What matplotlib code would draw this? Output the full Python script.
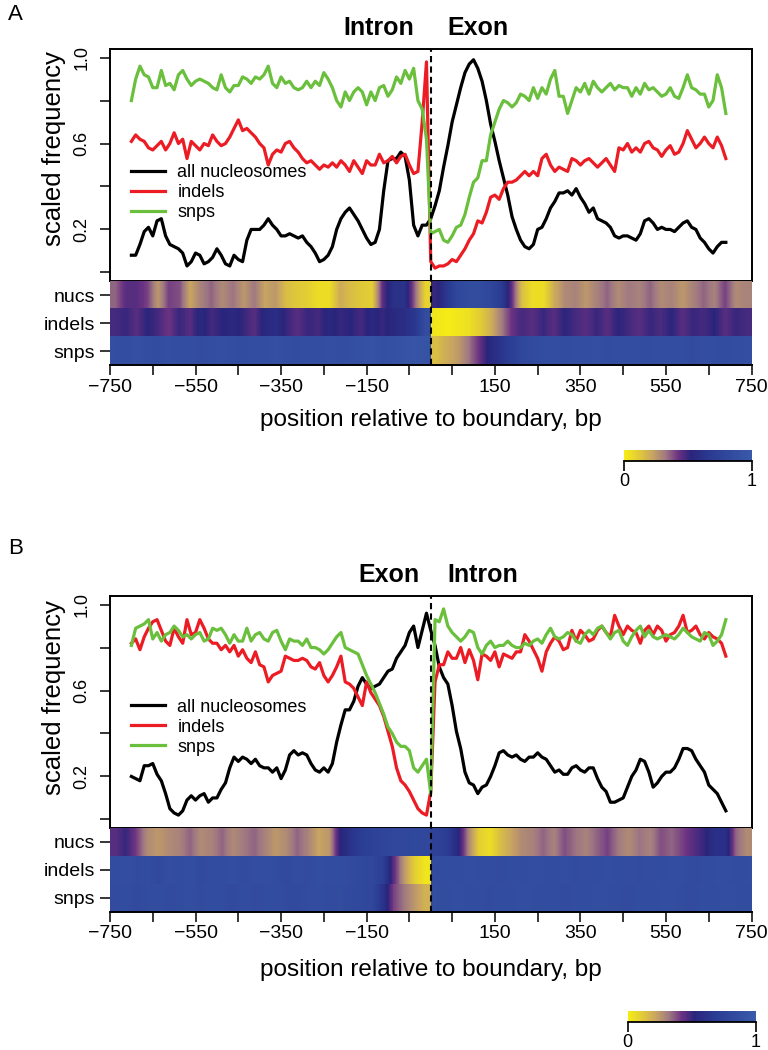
import numpy as np
import matplotlib
matplotlib.use("Agg")
import matplotlib.pyplot as plt
from matplotlib.colors import LinearSegmentedColormap, Normalize
from matplotlib.lines import Line2D

plt.rcParams['font.family'] = ['Liberation Sans', 'DejaVu Sans']

# ---------------- data (10 bp steps, -700 .. 690) ----------------
a_snps = [0.80,0.90,0.96,0.92,0.91,0.86,0.86,0.94,0.87,0.88,
          0.85,0.92,0.94,0.90,0.87,0.89,0.90,0.89,0.88,0.86,
          0.85,0.92,0.86,0.84,0.87,0.87,0.91,0.90,0.88,0.91,
          0.90,0.92,0.96,0.88,0.86,0.91,0.88,0.89,0.86,0.85,
          0.86,0.89,0.86,0.89,0.87,0.93,0.90,0.86,0.80,0.77,
          0.84,0.80,0.84,0.86,0.84,0.78,0.84,0.80,0.86,0.87,
          0.82,0.85,0.91,0.88,0.94,0.90,0.95,0.80,0.76,0.62,
          0.18,0.19,0.20,0.15,0.14,0.17,0.21,0.22,0.27,0.35,
          0.42,0.44,0.52,0.52,0.64,0.70,0.76,0.80,0.79,0.77,
          0.79,0.83,0.82,0.80,0.86,0.81,0.86,0.83,0.90,0.94,
          0.82,0.82,0.74,0.80,0.86,0.84,0.88,0.83,0.89,0.86,
          0.84,0.86,0.88,0.85,0.87,0.86,0.86,0.82,0.86,0.83,
          0.88,0.85,0.86,0.84,0.82,0.83,0.86,0.82,0.81,0.86,
          0.92,0.86,0.85,0.83,0.83,0.77,0.80,0.92,0.86,0.74]
a_indels = [0.61,0.64,0.62,0.61,0.58,0.57,0.59,0.61,0.57,0.60,
            0.65,0.60,0.62,0.53,0.61,0.59,0.57,0.60,0.59,0.64,
            0.61,0.59,0.60,0.63,0.67,0.71,0.66,0.67,0.65,0.63,
            0.60,0.58,0.50,0.55,0.57,0.56,0.60,0.61,0.58,0.56,
            0.53,0.51,0.52,0.50,0.48,0.50,0.49,0.51,0.49,0.52,
            0.50,0.47,0.52,0.49,0.46,0.52,0.50,0.50,0.55,0.51,
            0.52,0.54,0.51,0.54,0.55,0.50,0.46,0.47,0.70,0.98,
            0.05,0.02,0.03,0.03,0.04,0.06,0.05,0.08,0.11,0.15,
            0.18,0.24,0.23,0.28,0.35,0.36,0.34,0.39,0.42,0.42,
            0.43,0.45,0.47,0.45,0.47,0.45,0.53,0.55,0.50,0.47,
            0.49,0.48,0.47,0.53,0.52,0.50,0.52,0.53,0.51,0.49,
            0.51,0.53,0.50,0.47,0.58,0.57,0.60,0.56,0.58,0.56,
            0.60,0.61,0.58,0.57,0.54,0.57,0.59,0.55,0.56,0.60,
            0.66,0.62,0.58,0.60,0.63,0.60,0.58,0.63,0.59,0.53]
a_nucs = [0.08,0.08,0.13,0.19,0.21,0.17,0.24,0.25,0.17,0.13,
          0.12,0.11,0.09,0.03,0.05,0.09,0.08,0.04,0.05,0.07,
          0.11,0.08,0.04,0.03,0.08,0.06,0.05,0.15,0.20,0.20,
          0.20,0.22,0.25,0.22,0.20,0.17,0.17,0.18,0.17,0.16,
          0.17,0.14,0.12,0.09,0.05,0.06,0.08,0.12,0.20,0.25,
          0.28,0.30,0.27,0.24,0.20,0.16,0.13,0.14,0.20,0.38,
          0.52,0.53,0.53,0.56,0.54,0.43,0.22,0.17,0.22,0.22,
          0.25,0.31,0.38,0.49,0.59,0.70,0.78,0.86,0.93,0.97,
          0.99,0.95,0.89,0.80,0.69,0.61,0.52,0.44,0.36,0.26,
          0.20,0.15,0.12,0.11,0.13,0.20,0.21,0.25,0.30,0.33,
          0.37,0.37,0.38,0.36,0.39,0.35,0.32,0.28,0.30,0.25,
          0.24,0.23,0.21,0.17,0.16,0.17,0.17,0.16,0.15,0.18,
          0.24,0.25,0.23,0.20,0.21,0.20,0.20,0.19,0.21,0.23,
          0.24,0.21,0.20,0.16,0.14,0.11,0.09,0.12,0.14,0.14]

b_snps = [0.81,0.89,0.90,0.91,0.93,0.84,0.87,0.83,0.86,0.87,
          0.90,0.88,0.85,0.86,0.84,0.86,0.87,0.83,0.84,0.89,
          0.88,0.89,0.86,0.82,0.86,0.83,0.83,0.89,0.83,0.86,
          0.87,0.84,0.83,0.87,0.88,0.83,0.79,0.84,0.83,0.83,
          0.81,0.84,0.80,0.80,0.79,0.77,0.79,0.82,0.85,0.87,
          0.80,0.79,0.78,0.77,0.72,0.67,0.63,0.59,0.54,0.49,
          0.43,0.40,0.36,0.34,0.34,0.32,0.24,0.22,0.25,0.28,
          0.12,0.93,0.92,0.98,0.90,0.87,0.85,0.83,0.85,0.88,
          0.87,0.80,0.77,0.81,0.83,0.80,0.81,0.81,0.83,0.81,
          0.80,0.80,0.82,0.81,0.83,0.84,0.82,0.86,0.89,0.85,
          0.84,0.85,0.87,0.86,0.83,0.82,0.86,0.88,0.86,0.89,
          0.90,0.87,0.84,0.87,0.88,0.83,0.81,0.85,0.88,0.90,
          0.85,0.88,0.85,0.84,0.85,0.86,0.85,0.84,0.86,0.89,
          0.87,0.85,0.84,0.83,0.87,0.86,0.81,0.83,0.86,0.93]
b_indels = [0.82,0.84,0.79,0.85,0.89,0.92,0.93,0.88,0.83,0.81,
            0.89,0.85,0.82,0.93,0.86,0.87,0.93,0.89,0.84,0.82,
            0.82,0.79,0.81,0.78,0.81,0.76,0.79,0.75,0.73,0.78,
            0.72,0.71,0.64,0.67,0.68,0.69,0.76,0.75,0.74,0.74,
            0.75,0.74,0.71,0.70,0.73,0.67,0.64,0.67,0.71,0.76,
            0.64,0.63,0.61,0.57,0.53,0.64,0.59,0.56,0.53,0.48,
            0.41,0.34,0.24,0.18,0.16,0.13,0.09,0.05,0.03,0.02,
            0.13,0.64,0.72,0.72,0.78,0.75,0.75,0.80,0.73,0.79,
            0.74,0.65,0.77,0.76,0.74,0.78,0.71,0.77,0.76,0.75,
            0.78,0.78,0.86,0.83,0.79,0.75,0.69,0.78,0.82,0.85,
            0.83,0.79,0.80,0.88,0.83,0.88,0.86,0.83,0.84,0.88,
            0.90,0.87,0.85,0.95,0.90,0.86,0.90,0.88,0.87,0.82,
            0.88,0.90,0.86,0.90,0.88,0.83,0.86,0.87,0.90,0.95,
            0.87,0.88,0.90,0.86,0.84,0.87,0.85,0.84,0.82,0.76]
b_nucs = [0.20,0.19,0.18,0.25,0.25,0.26,0.21,0.18,0.12,0.05,
          0.03,0.02,0.04,0.09,0.11,0.09,0.11,0.12,0.08,0.10,
          0.10,0.14,0.17,0.24,0.29,0.27,0.29,0.28,0.26,0.28,
          0.25,0.24,0.24,0.22,0.24,0.19,0.23,0.30,0.32,0.30,
          0.31,0.30,0.26,0.23,0.22,0.24,0.22,0.26,0.36,0.44,
          0.51,0.51,0.55,0.62,0.66,0.63,0.61,0.62,0.63,0.66,
          0.69,0.70,0.75,0.78,0.81,0.87,0.90,0.80,0.88,0.96,
          0.88,0.81,0.71,0.66,0.63,0.53,0.41,0.33,0.22,0.17,
          0.16,0.12,0.15,0.16,0.20,0.25,0.31,0.32,0.30,0.29,
          0.30,0.28,0.27,0.29,0.29,0.31,0.29,0.28,0.25,0.22,
          0.23,0.21,0.21,0.24,0.25,0.23,0.22,0.24,0.24,0.19,
          0.15,0.13,0.08,0.08,0.09,0.10,0.15,0.20,0.23,0.28,
          0.27,0.22,0.15,0.17,0.20,0.22,0.22,0.24,0.28,0.33,
          0.33,0.32,0.28,0.25,0.22,0.16,0.14,0.12,0.08,0.04]

# heatmap rows, 25 bp cells from -750 to 750 (60 cells)
a_heat_nucs = [0.35,0.45,0.45,0.40,0.25,0.40,0.38,0.22,0.30,0.35,
               0.28,0.33,0.25,0.32,0.22,0.25,0.15,0.12,0.10,0.05,
               0.05,0.20,0.15,0.12,0.10,0.45,0.60,0.62,0.35,0.08,
               0.50,0.65,0.80,0.85,0.85,0.80,0.70,0.45,0.15,0.05,
               0.05,0.20,0.28,0.30,0.25,0.30,0.35,0.28,0.32,0.30,
               0.35,0.28,0.30,0.25,0.30,0.35,0.30,0.40,0.28,0.30]
a_heat_indels = [0.48,0.50,0.45,0.52,0.48,0.42,0.50,0.45,0.55,0.48,
                 0.52,0.55,0.50,0.45,0.55,0.58,0.50,0.45,0.50,0.48,
                 0.55,0.50,0.52,0.48,0.55,0.50,0.55,0.58,0.65,0.85,
                 0.02,0.00,0.02,0.04,0.10,0.18,0.30,0.42,0.48,0.45,
                 0.50,0.45,0.52,0.48,0.45,0.50,0.45,0.52,0.48,0.45,
                 0.50,0.47,0.52,0.45,0.50,0.48,0.52,0.45,0.50,0.48]
a_heat_snps = [0.88,0.86,0.90,0.87,0.85,0.89,0.86,0.88,0.84,0.87,
               0.89,0.86,0.85,0.88,0.86,0.90,0.87,0.85,0.88,0.86,
               0.89,0.87,0.88,0.90,0.92,0.88,0.90,0.92,0.94,0.92,
               0.15,0.20,0.24,0.32,0.42,0.55,0.62,0.72,0.80,0.84,
               0.86,0.88,0.85,0.87,0.86,0.89,0.85,0.87,0.88,0.86,
               0.85,0.88,0.86,0.87,0.84,0.88,0.86,0.85,0.87,0.88]
b_heat_nucs = [0.45,0.50,0.40,0.28,0.25,0.28,0.30,0.35,0.28,0.30,
               0.35,0.28,0.32,0.35,0.30,0.25,0.28,0.35,0.30,0.22,
               0.25,0.52,0.62,0.70,0.75,0.78,0.80,0.80,0.82,0.80,
               0.75,0.70,0.55,0.30,0.10,0.05,0.15,0.22,0.28,0.30,
               0.35,0.30,0.38,0.33,0.30,0.35,0.40,0.32,0.28,0.33,
               0.30,0.38,0.35,0.40,0.45,0.50,0.60,0.60,0.35,0.28]
b_heat_indels = [0.85,0.88,0.84,0.86,0.82,0.87,0.85,0.88,0.83,0.86,
                 0.85,0.87,0.84,0.86,0.88,0.85,0.83,0.86,0.84,0.87,
                 0.85,0.86,0.84,0.82,0.80,0.72,0.45,0.25,0.10,0.02,
                 0.84,0.86,0.85,0.87,0.85,0.86,0.84,0.86,0.85,0.87,
                 0.86,0.85,0.87,0.84,0.86,0.85,0.87,0.85,0.86,0.84,
                 0.86,0.85,0.87,0.86,0.84,0.85,0.86,0.87,0.85,0.86]
b_heat_snps = [0.84,0.86,0.83,0.85,0.86,0.84,0.85,0.87,0.84,0.86,
               0.85,0.83,0.86,0.84,0.85,0.86,0.84,0.83,0.85,0.86,
               0.84,0.85,0.83,0.82,0.80,0.62,0.40,0.32,0.25,0.18,
               0.86,0.85,0.87,0.85,0.86,0.84,0.86,0.85,0.87,0.86,
               0.85,0.86,0.84,0.86,0.85,0.87,0.86,0.85,0.84,0.86,
               0.85,0.86,0.87,0.85,0.84,0.86,0.85,0.87,0.86,0.85]

row_names = ["nucs", "indels", "snps"]
legend_names = ["all nucleosomes", "indels", "snps"]
xtick_pos = list(range(-750, 751, 100))
xtick_lab = ["\u2212750", "", "\u2212550", "", "\u2212350", "", "\u2212150", "",
             "", "150", "", "350", "", "550", "", "750"]

heat_cmap = LinearSegmentedColormap.from_list("heat", [
    (0.00, "#f5ec17"), (0.12, "#e0c83a"), (0.22, "#c8a462"), (0.32, "#a07a82"),
    (0.42, "#6c3282"), (0.52, "#2a257c"), (0.68, "#2a3c92"), (1.00, "#3a5aaa")])
line_cols = ["#000000", "#ec1c24", "#6abf3c"]

W, H = 768.0, 1050.0
fig = plt.figure(figsize=(7.68, 10.5), dpi=100)


def fx(p):
    return p / W


def fy(p):
    return 1 - p / H


def panel(tag, tag_y, top, line_bot, heat_bot, series, heats, leg_y, ylab_y,
          titles, title_y, xlab_y, cb_box):
    left, right = 110, 751.5
    ax = fig.add_axes([fx(left), fy(line_bot), (right - left) / W, (line_bot - top) / H])
    for vals, col in zip(series, line_cols):
        pos = np.linspace(-700, 690, len(vals))
        ax.plot(pos, vals, color=col, lw=2.3, solid_joinstyle="round")
    ax.axvline(0, color="k", lw=1.5, ls=(0, (3, 2)))
    ax.set_xlim(-750, 750)
    ax.set_ylim(-0.04, 1.04)
    ax.set_xticks([])
    ax.set_yticks([0, 0.2, 0.4, 0.6, 0.8, 1.0])
    ax.set_yticklabels(["", "0.2", "", "0.6", "", "1.0"], rotation=90, va="center", fontsize=13)
    ax.tick_params(axis="y", length=7, width=1.1, pad=7)
    for s in ax.spines.values():
        s.set_linewidth(1.4)
    handles = [Line2D([], [], color=c, lw=2.3) for c in line_cols]
    ax.legend(handles, legend_names, loc="upper left", bbox_to_anchor=(0.032, leg_y),
              frameon=False, fontsize=13, handlelength=1.9, handletextpad=0.7,
              labelspacing=0.17, borderaxespad=0, borderpad=0)

    hx = fig.add_axes([fx(left), fy(heat_bot), (right - left) / W, (heat_bot - line_bot) / H])
    for i, vals in enumerate(heats):
        r = 2 - i
        v = np.array(vals)
        hx.imshow(v[:30][None, :], extent=(-750, 0, r, r + 1), cmap=heat_cmap, vmin=0, vmax=1,
                  aspect="auto", interpolation="bilinear")
        hx.imshow(v[30:][None, :], extent=(0, 750, r, r + 1), cmap=heat_cmap, vmin=0, vmax=1,
                  aspect="auto", interpolation="bilinear")
    hx.axvline(0, color="k", lw=1.5, ls=(0, (3, 2)))
    hx.set_xlim(-750, 750)
    hx.set_ylim(0, 3)
    hx.set_yticks([2.5, 1.5, 0.5])
    hx.set_yticklabels(row_names, fontsize=14)
    hx.set_xticks(xtick_pos)
    hx.set_xticklabels(xtick_lab, fontsize=14)
    hx.tick_params(axis="y", length=7, width=1.1, pad=4)
    hx.tick_params(axis="x", length=7, width=1.1, pad=3)
    for k in ["top", "left", "right"]:
        hx.spines[k].set_visible(False)
    hx.spines["bottom"].set_linewidth(1.4)

    fig.text(fx(430.7), fy(xlab_y), "position relative to boundary, bp", fontsize=17.5,
             ha="center", va="center")
    fig.text(fx(54), fy(ylab_y), "scaled frequency", fontsize=18.5, rotation=90,
             ha="center", va="center")
    for (txt, xc) in titles:
        fig.text(fx(xc), fy(title_y), txt, fontsize=18, weight="bold", ha="center", va="center")
    fig.text(fx(8), fy(tag_y), tag, fontsize=16, ha="left", va="center")

    cx0, cy_top, cw, ch = cb_box
    cax = fig.add_axes([fx(cx0), fy(cy_top + ch), cw / W, ch / H])
    sm = matplotlib.cm.ScalarMappable(norm=Normalize(0, 1), cmap=heat_cmap)
    cb = fig.colorbar(sm, cax=cax, orientation="horizontal", ticks=[0, 1])
    cb.outline.set_visible(False)
    cax.axhline(0, color="k", lw=1.3, clip_on=False)
    cax.tick_params(axis="x", length=7, width=1.2, labelsize=13, pad=1.5)


panel("A", 14, 49, 281, 365.5, [a_nucs, a_indels, a_snps],
      [a_heat_nucs, a_heat_indels, a_heat_snps], 0.505, 148.5,
      [("Intron", 379), ("Exon", 478)], 28, 420, (624, 450, 128, 11))
panel("B", 549, 596, 828, 911.5, [b_nucs, b_indels, b_snps],
      [b_heat_nucs, b_heat_indels, b_heat_snps], 0.558, 698,
      [("Exon", 388.5), ("Intron", 483)], 575, 970, (627.6, 1011, 128.5, 11))

fig.savefig("out.png", dpi=100)
